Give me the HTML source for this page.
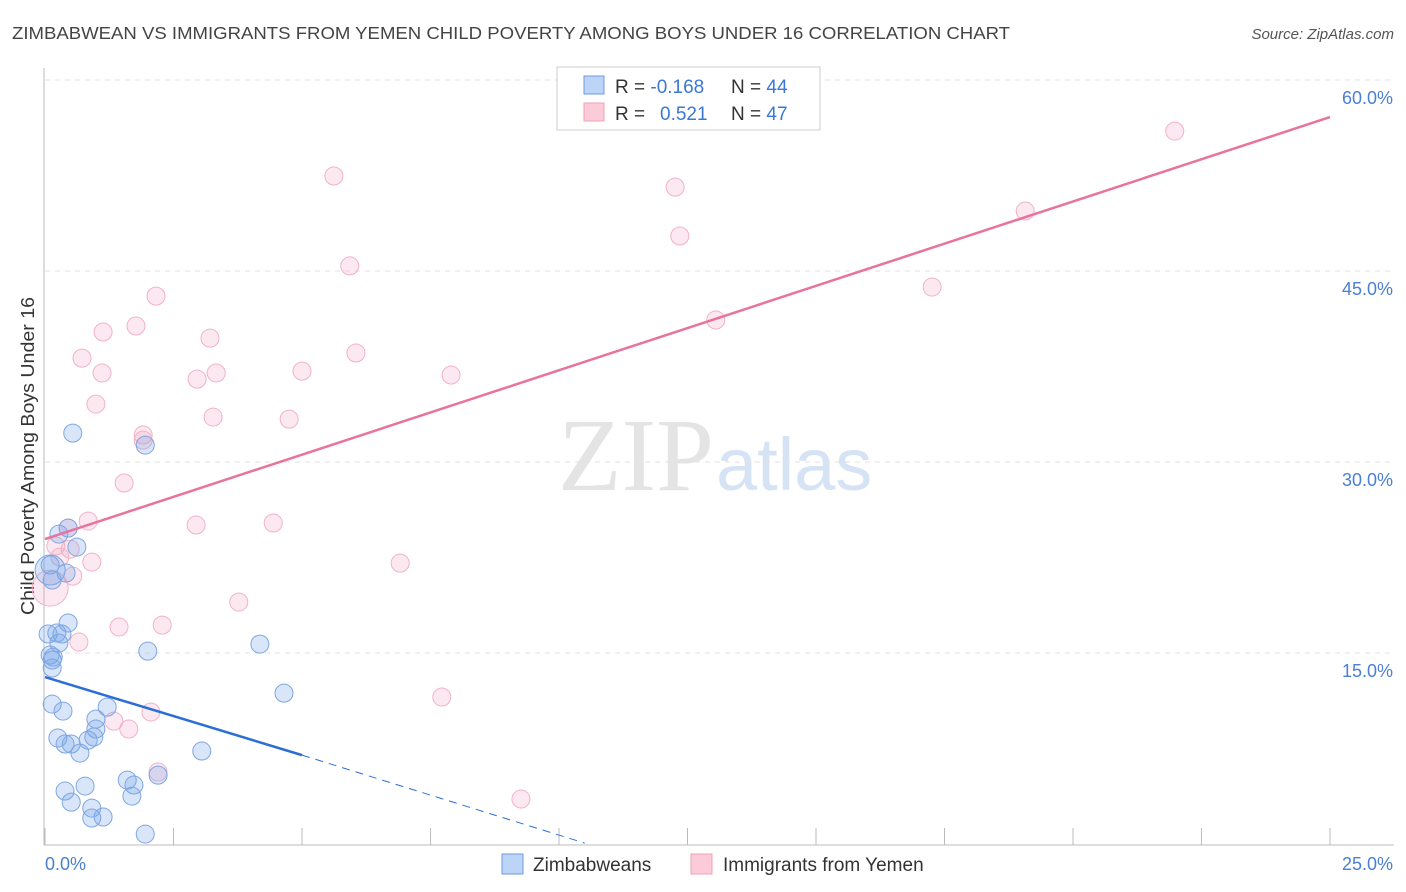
<!DOCTYPE html>
<html><head><meta charset="utf-8"><style>
body{margin:0;background:#fff;font-family:"Liberation Sans",sans-serif;}
#wrap{position:relative;width:1406px;height:892px;overflow:hidden;}
</style></head><body>
<div id="wrap">
<svg id="svg" width="1406" height="892" xmlns="http://www.w3.org/2000/svg">
<text x="12" y="39" font-size="17.5" fill="#444" textLength="998" lengthAdjust="spacingAndGlyphs">ZIMBABWEAN VS IMMIGRANTS FROM YEMEN CHILD POVERTY AMONG BOYS UNDER 16 CORRELATION CHART</text>
<text x="1394" y="39" font-size="15" fill="#555" font-style="italic" text-anchor="end">Source: ZipAtlas.com</text>
<text x="714" y="490" font-size="104" fill="#e4e4e4" text-anchor="end" font-family="Liberation Serif, serif">ZIP</text>
<text x="716" y="490" font-size="74" fill="#d6e3f5">atlas</text>
<text transform="translate(34,456) rotate(-90)" font-size="18" fill="#333" text-anchor="middle" textLength="318" lengthAdjust="spacingAndGlyphs">Child Poverty Among Boys Under 16</text>
<g id="grid"></g><g id="axes"></g><g id="pts"></g><g id="trend"></g>
<g>
<rect x="557" y="67" width="263" height="63" fill="#fff" stroke="#ccc"/>
<rect x="584" y="76" width="20" height="18" fill="#bcd4f7" stroke="#6d9be0"/>
<rect x="584" y="103" width="20" height="18" fill="#fbcbd9" stroke="#f0a0b8"/>
<text x="615" y="93" font-size="19" fill="#333">R = <tspan fill="#3a78d8">-0.168</tspan><tspan x="731">N = </tspan><tspan fill="#3a78d8">44</tspan></text>
<text x="615" y="120" font-size="19" fill="#333">R = <tspan x="660" fill="#3a78d8">0.521</tspan><tspan x="731">N = </tspan><tspan fill="#3a78d8">47</tspan></text>
</g>
<g>
<rect x="502" y="854" width="21" height="20" fill="#bcd4f7" stroke="#6d9be0"/>
<text x="533" y="871" font-size="19" fill="#333">Zimbabweans</text>
<rect x="691" y="854" width="21" height="20" fill="#fbcbd9" stroke="#f0a0b8"/>
<text x="723" y="871" font-size="19" fill="#333">Immigrants from Yemen</text>
</g>
</svg>
</div>
<script>
const blueX=[0.54,1.95,0.45,0.27,0.62,0.10,0.41,0.14,0.45,0.23,0.06,0.33,0.27,0.10,0.14,0.14,0.16,4.18,2.00,0.14,0.35,1.21,4.65,0.99,0.99,0.95,0.84,0.25,0.39,0.51,0.68,3.05,1.60,1.73,2.20,0.78,0.39,0.51,1.69,0.91,0.91,1.13,1.95,0.10];
const blueY=[32.27,31.33,24.81,24.34,23.32,21.91,21.28,20.73,17.36,16.57,16.49,16.49,15.78,14.84,14.45,13.82,14.68,15.70,15.15,10.99,10.44,10.75,11.85,9.81,9.03,8.40,8.16,8.32,7.85,7.85,7.14,7.30,5.02,4.63,5.41,4.55,4.16,3.29,3.76,2.82,2.04,2.12,0.78,21.52];
const blueBig=[43];
const pinkX=[21.98,5.62,12.26,12.35,19.07,5.93,2.16,17.26,13.05,1.77,1.13,3.21,6.05,0.72,1.11,3.33,5.00,7.90,2.96,0.99,3.27,4.75,1.91,1.91,1.54,0.84,2.94,4.44,0.45,0.21,0.49,0.91,6.91,0.54,0.29,3.77,1.44,2.28,0.66,7.72,2.06,1.34,1.63,2.20,9.26,0.10];
const pinkY=[55.99,52.46,51.59,47.75,49.71,45.40,43.03,43.74,41.15,40.68,40.21,39.73,38.56,38.16,36.99,36.99,37.14,36.83,36.51,34.55,33.53,33.37,32.12,31.72,28.35,25.36,25.05,25.21,24.81,23.40,23.16,22.14,22.06,21.04,22.54,19.00,17.04,17.19,15.86,11.54,10.36,9.65,9.03,5.65,3.53,20.10];
const pinkBig=[45];
const yTicks=[15,30,45,60];
const yTickLabels=["15.0%","30.0%","45.0%","60.0%"];
const xTicks=[0,2.5,5,7.5,10,12.5,15,17.5,20,22.5,25];
const pinkTrendX=[0,25], pinkTrendY=[23.95,57.09];
const blueTrendX=[0,5,10.5], blueTrendY=[13.11,6.98,0.07];

const NS="http://www.w3.org/2000/svg";
const X=v=>45+v*51.4;
const Y=v=>844-v*12.733;
function mk(tag,attrs,parent){const e=document.createElementNS(NS,tag);for(const k in attrs)e.setAttribute(k,attrs[k]);document.getElementById(parent).appendChild(e);return e;}
yTicks.forEach((t,i)=>{
  const g=mk('line',{x1:45,x2:1394,y1:Y(t),y2:Y(t),stroke:'#e2e2e2','stroke-dasharray':'5,5'},'grid');
  
  
  const l=mk('text',{x:1393,y:Y(t)+24,'font-size':18,fill:'#4a7fd4','text-anchor':'end'},'grid');
  l.textContent=yTickLabels[i];
  
  
});
const ax=mk('line',{x1:44,x2:44,y1:68,y2:845,stroke:'#bbb'},'axes');


const bx=mk('line',{x1:44,x2:1394,y1:845,y2:845,stroke:'#bbb'},'axes');


xTicks.forEach(t=>{const e=mk('line',{x1:X(t),x2:X(t),y1:828,y2:845,stroke:'#bbb'},'axes');
  
  });
const x0=mk('text',{x:45,y:870,'font-size':18,fill:'#4a7fd4'},'axes');x0.textContent=xTicks[0].toFixed(1)+'%';


const x1=mk('text',{x:1393,y:870,'font-size':18,fill:'#4a7fd4','text-anchor':'end'},'axes');x1.textContent=xTicks[xTicks.length-1].toFixed(1)+'%';


pinkX.forEach((v,i)=>{const c=mk('circle',{cx:X(v),cy:Y(pinkY[i]),r:pinkBig.includes(i)?18:9,fill:'rgba(244,165,195,0.25)',stroke:'#f2b2c6','stroke-width':1},'pts');
  
  });
blueX.forEach((v,i)=>{const c=mk('circle',{cx:X(v),cy:Y(blueY[i]),r:blueBig.includes(i)?15:9,fill:'rgba(120,165,235,0.28)',stroke:'#7ea6e2','stroke-width':1},'pts');
  
  });
const pl=mk('line',{x1:X(pinkTrendX[0]),y1:Y(pinkTrendY[0]),x2:X(pinkTrendX[1]),y2:Y(pinkTrendY[1]),stroke:'#e8739d','stroke-width':2.5},'trend');


const bl=mk('line',{x1:X(blueTrendX[0]),y1:Y(blueTrendY[0]),x2:X(blueTrendX[1]),y2:Y(blueTrendY[1]),stroke:'#2b6fd6','stroke-width':2.5},'trend');


const bd=mk('line',{x1:X(blueTrendX[1]),y1:Y(blueTrendY[1]),x2:X(blueTrendX[2]),y2:Y(blueTrendY[2]),stroke:'#2b6fd6','stroke-width':1,'stroke-dasharray':'8,6'},'trend');


</script>
</body></html>
